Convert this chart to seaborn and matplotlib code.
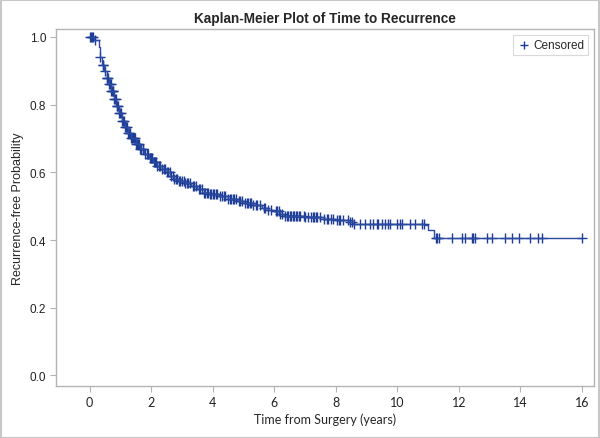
import numpy as np
import pandas as pd
import matplotlib
matplotlib.use("Agg")
import matplotlib.pyplot as plt
import seaborn as sns

# Kaplan-Meier estimate (step drops)
event_times = [0.00, 0.15, 0.29, 0.33, 0.40, 0.48, 0.55, 0.62, 0.70, 0.78,
               0.86, 0.95, 1.05, 1.15, 1.25, 1.35, 1.50, 1.63, 1.78, 1.92,
               2.05, 2.20, 2.35, 2.50, 2.62, 2.75, 2.90, 3.10, 3.30, 3.50,
               3.70, 3.90, 4.20, 4.50, 4.80, 5.00, 5.30, 5.60, 5.80, 6.00,
               6.20, 6.30, 7.00, 7.60, 8.00, 8.40, 8.55, 10.87, 11.00, 11.19]
survival = [1.000, 0.990, 0.970, 0.940, 0.918, 0.898, 0.878, 0.860, 0.840, 0.818,
            0.795, 0.775, 0.752, 0.735, 0.716, 0.700, 0.684, 0.670, 0.655, 0.643,
            0.632, 0.620, 0.610, 0.600, 0.590, 0.581, 0.574, 0.567, 0.560, 0.550,
            0.540, 0.536, 0.530, 0.522, 0.514, 0.508, 0.502, 0.495, 0.490, 0.485,
            0.476, 0.471, 0.467, 0.463, 0.458, 0.452, 0.448, 0.443, 0.429, 0.406]
end_time = 16.0

censor_times = [0.02, 0.05, 0.08, 0.12, 0.18, 0.35, 0.42, 0.45, 0.50, 0.55,
                0.58, 0.60, 0.63, 0.66, 0.68, 0.70, 0.72, 0.75, 0.77, 0.80,
                0.83, 0.85, 0.88, 0.90, 0.93, 0.95, 0.98, 1.02, 1.05, 1.08,
                1.12, 1.15, 1.18, 1.22, 1.25, 1.28, 1.30, 1.35, 1.38, 1.42,
                1.45, 1.48, 1.52, 1.55, 1.58, 1.62, 1.65, 1.68, 1.72, 1.75,
                1.80, 1.85, 1.88, 1.95, 1.98, 2.02, 2.08, 2.12, 2.15, 2.20,
                2.25, 2.30, 2.35, 2.40, 2.45, 2.50, 2.55, 2.60, 2.65, 2.70,
                2.75, 2.80, 2.85, 2.90, 2.95, 3.00, 3.05, 3.10, 3.15, 3.20,
                3.25, 3.35, 3.40, 3.45, 3.55, 3.60, 3.65, 3.70, 3.75, 3.80,
                3.85, 3.90, 3.95, 4.00, 4.05, 4.10, 4.15, 4.25, 4.30, 4.35,
                4.40, 4.50, 4.55, 4.60, 4.65, 4.70, 4.75, 4.85, 4.90, 4.95,
                5.05, 5.10, 5.15, 5.20, 5.25, 5.30, 5.40, 5.45, 5.55, 5.65,
                5.70, 5.80, 5.90, 6.05, 6.10, 6.15, 6.20, 6.25, 6.35, 6.40,
                6.45, 6.50, 6.55, 6.60, 6.65, 6.70, 6.75, 6.80, 6.85, 6.95,
                7.00, 7.10, 7.20, 7.25, 7.30, 7.35, 7.40, 7.50, 7.60, 7.70,
                7.75, 7.85, 7.90, 8.03, 8.10, 8.13, 8.23, 8.39, 8.45, 8.52,
                8.58, 8.78, 8.94, 9.11, 9.20, 9.33, 9.37, 9.50, 9.59, 9.69,
                9.76, 9.98, 10.08, 10.15, 10.41, 10.57, 10.80, 10.86, 11.25, 11.30,
                11.35, 11.76, 12.09, 12.20, 12.41, 12.46, 12.52, 12.90, 13.06, 13.50,
                13.71, 13.96, 14.31, 14.58, 14.69, 16.0]

sns.set_style("white")
plt.rcParams['font.family'] = ['Liberation Sans', 'DejaVu Sans']

line_color = "#2b4ba3"
mark_color = "#1d3d96"
grey = "#b4b4b4"

curve = pd.DataFrame({"time": event_times + [end_time],
                      "surv": survival + [survival[-1]]})
ev_t = np.array(event_times)
ev_s = np.array(survival)
idx = np.searchsorted(ev_t, censor_times, side="right") - 1
cens = pd.DataFrame({"time": censor_times, "surv": ev_s[idx]})

fig = plt.figure(figsize=(6, 4.39), dpi=100)
ax = fig.add_axes([0.093, 0.118, 0.897, 0.814])

sns.lineplot(data=curve, x="time", y="surv", drawstyle="steps-post",
             estimator=None, sort=False, color=line_color, linewidth=1.0, ax=ax)
sns.scatterplot(data=cens, x="time", y="surv", marker="+", s=42,
                color=mark_color, linewidth=1.0, ax=ax, label="Censored")

ax.set_xlim(-1.1, 16.39)
ax.set_ylim(-0.032, 1.024)
ax.set_xticks(range(0, 17, 2))
ax.set_yticks([0.0, 0.2, 0.4, 0.6, 0.8, 1.0])
ax.set_yticklabels(["0.0", "0.2", "0.4", "0.6", "0.8", "1.0"])
for s in ax.spines.values():
    s.set_color(grey)
    s.set_linewidth(1.0)
ax.tick_params(axis="both", which="major", direction="out", length=4, width=0.8,
               color=grey, labelsize=8.5, labelcolor="#222222",
               left=True, bottom=True, pad=3)
for lab in ax.get_xticklabels():
    lab.set_fontfamily(["Lato", "DejaVu Sans"])
    lab.set_fontsize(9)

ax.set_title("Kaplan-Meier Plot of Time to Recurrence", fontsize=9.8,
             fontweight="bold", pad=5)
ax.set_xlabel("Time from Surgery (years)", fontsize=9,
              family=["Lato", "DejaVu Sans"], labelpad=3)
ax.set_ylabel("Recurrence-free Probability", fontsize=9, labelpad=4)

leg = ax.legend(loc="upper right", frameon=True, fancybox=False,
                fontsize=8.5, handletextpad=0.3, borderpad=0.35,
                handlelength=1.0, markerscale=0.9)
leg.get_frame().set_edgecolor("#d0d0d0")
leg.get_frame().set_linewidth(0.8)

fig.patches.append(plt.Rectangle((0.001, 0.001), 0.997, 0.997,
                                 transform=fig.transFigure, fill=False,
                                 edgecolor="#c8c8c8", linewidth=1.5))

fig.savefig("out.png", dpi=100)
